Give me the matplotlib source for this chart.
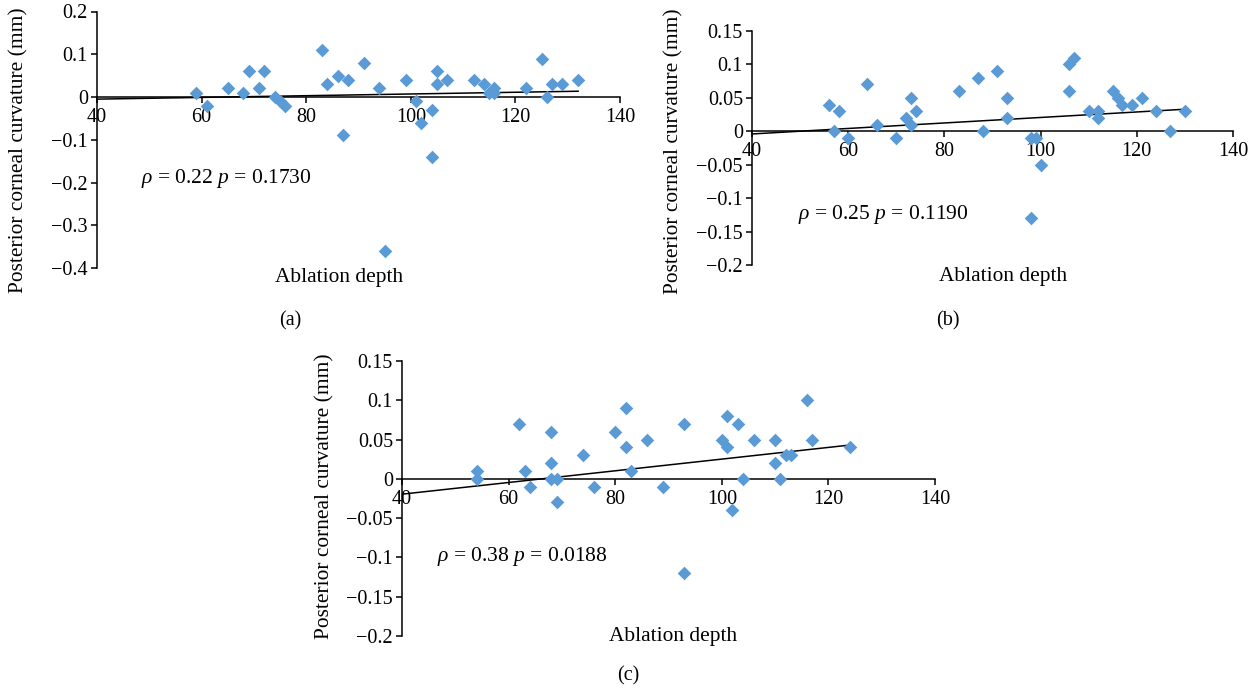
import matplotlib
matplotlib.use("Agg")
import matplotlib.pyplot as plt
import numpy as np

plt.rcParams['font.family'] = ['Liberation Serif', 'DejaVu Serif']
plt.rcParams['mathtext.fontset'] = 'custom'
plt.rcParams['mathtext.rm'] = 'Liberation Serif'
plt.rcParams['mathtext.it'] = 'Liberation Serif:italic'

# ---- data ----
a_x = [59, 61, 65, 68, 69, 71, 72, 74, 75, 76, 83, 84, 86, 87, 88, 91, 94, 95,
       99, 101, 102, 104, 104, 105, 105, 107, 112, 114, 115, 116, 116, 122, 125,
       126, 127, 129, 132]
a_y = [0.01, -0.02, 0.02, 0.01, 0.06, 0.02, 0.06, 0.0, -0.01, -0.02, 0.11, 0.03,
       0.05, -0.09, 0.04, 0.08, 0.02, -0.36, 0.04, -0.01, -0.06, -0.03, -0.14,
       0.06, 0.03, 0.04, 0.04, 0.03, 0.01, 0.02, 0.01, 0.02, 0.09, 0.0, 0.03,
       0.03, 0.04]
a_trend_x = [40, 132]
a_trend_y = [-0.005, 0.0135]

b_x = [56, 57, 58, 60, 64, 66, 70, 72, 73, 73, 74, 83, 87, 88, 91, 93, 93, 98,
       99, 98, 100, 106, 107, 106, 110, 112, 112, 115, 116, 117, 119, 121, 124,
       127, 130]
b_y = [0.04, 0.0, 0.03, -0.01, 0.07, 0.01, -0.01, 0.02, 0.05, 0.01, 0.03, 0.06,
       0.08, 0.0, 0.09, 0.05, 0.02, -0.01, -0.01, -0.13, -0.05, 0.10, 0.11, 0.06,
       0.03, 0.03, 0.02, 0.06, 0.05, 0.04, 0.04, 0.05, 0.03, 0.0, 0.03]
b_trend_x = [40, 130]
b_trend_y = [-0.004, 0.033]

c_x = [54, 54, 62, 63, 64, 68, 68, 68, 69, 69, 74, 76, 80, 82, 82, 83, 86, 89,
       93, 93, 100, 101, 101, 102, 103, 104, 106, 110, 110, 111, 112, 113, 116,
       117, 124]
c_y = [0.01, 0.0, 0.07, 0.01, -0.01, 0.06, 0.02, 0.0, 0.0, -0.03, 0.03, -0.01,
       0.06, 0.09, 0.04, 0.01, 0.05, -0.01, 0.07, -0.12, 0.05, 0.08, 0.04, -0.04,
       0.07, 0.0, 0.05, 0.05, 0.02, 0.0, 0.03, 0.03, 0.10, 0.05, 0.04]
c_trend_x = [40, 124]
c_trend_y = [-0.0195, 0.043]

stats = ["0.22", "0.1730", "0.25", "0.1190", "0.38", "0.0188"]
panel_names = ["(a)", "(b)", "(c)"]
x_ticks = [40, 60, 80, 100, 120, 140]
a_yticks = [-0.4, -0.3, -0.2, -0.1, 0, 0.1, 0.2]
a_ylabels = ["\u22120.4", "\u22120.3", "\u22120.2", "\u22120.1", "0", "0.1", "0.2"]
bc_yticks = [-0.2, -0.15, -0.1, -0.05, 0, 0.05, 0.1, 0.15]
bc_ylabels = ["\u22120.2", "\u22120.15", "\u22120.1", "\u22120.05", "0", "0.05", "0.1", "0.15"]

W, H = 1257, 694
fig = plt.figure(figsize=(W / 100, H / 100), dpi=100)

COLOR = '#5B9BD5'
FS = 14.5
FS_LABEL = 15.4
FS_STAT = 15.5


def make_axes(rect_px, xs, ys, tx, ty, yticks, ylabels, ylim, stat_idx, stat_pos,
              xlabel_pos, ylabel_pos, panel_pos, panel_name):
    l, t, r, b = rect_px
    ax = fig.add_axes([l / W, 1 - b / H, (r - l) / W, (b - t) / H])
    ax.set_xlim(40, 140)
    ax.set_ylim(*ylim)
    ax.scatter(xs, ys, marker='D', s=48, color=COLOR, linewidths=0, zorder=3)
    ax.plot(tx, ty, color='black', lw=1.1, zorder=2)
    for s in ['top', 'right']:
        ax.spines[s].set_visible(False)
    ax.spines['bottom'].set_position(('data', 0))
    for s in ['left', 'bottom']:
        ax.spines[s].set_linewidth(1.1)
        ax.spines[s].set_color('black')
    ax.set_xticks(x_ticks)
    ax.set_xticklabels([str(v) for v in x_ticks])
    ax.set_yticks(yticks)
    ax.set_yticklabels(ylabels)
    ax.tick_params(axis='both', direction='out', length=4.5, width=1.1,
                   labelsize=FS, pad=2)
    ax.tick_params(axis='x', pad=3.5)
    ax.patch.set_alpha(0)
    fig.text(ylabel_pos[0] / W, 1 - ylabel_pos[1] / H,
             "Posterior corneal curvature (mm)", fontsize=FS_LABEL,
             rotation=90, ha='center', va='center')
    fig.text(stat_pos[0] / W, 1 - stat_pos[1] / H,
             r"$\rho$ = " + stats[stat_idx] + r" $p$ = " + stats[stat_idx + 1],
             fontsize=FS_STAT, ha='left', va='center')
    fig.text(xlabel_pos[0] / W, 1 - xlabel_pos[1] / H, "Ablation depth",
             fontsize=FS_LABEL, ha='center', va='center')
    fig.text(panel_pos[0] / W, 1 - panel_pos[1] / H, panel_name,
             fontsize=FS, ha='center', va='center')
    return ax


ax_a = make_axes((97, 11.5, 620, 268), a_x, a_y, a_trend_x, a_trend_y,
                 a_yticks, a_ylabels, (-0.4, 0.2), 0, (141, 178), (339, 278),
                 (19, 150), (290, 321), panel_names[0])
ax_b = make_axes((752, 31, 1233, 265), b_x, b_y, b_trend_x, b_trend_y,
                 bc_yticks, bc_ylabels, (-0.2, 0.15), 2, (798, 214), (1003, 277),
                 (674, 151), (948, 321), panel_names[1])
ax_c = make_axes((402, 361, 935, 636), c_x, c_y, c_trend_x, c_trend_y,
                 bc_yticks, bc_ylabels, (-0.2, 0.15), 4, (437, 557), (673, 637),
                 (325, 496), (628, 676), panel_names[2])

fig.savefig("out.png", dpi=100)
